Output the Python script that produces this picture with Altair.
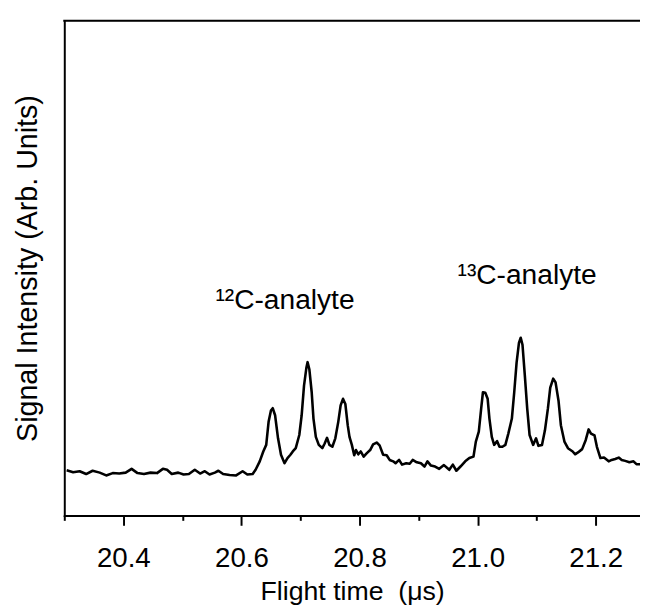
import altair as alt
import pandas as pd

# Flight time (microseconds)
time_us = [
    20.304, 20.315, 20.326, 20.337, 20.348, 20.360, 20.371, 20.382, 20.393, 20.404,
    20.414, 20.424, 20.435, 20.446, 20.457, 20.467, 20.474, 20.482, 20.493, 20.502,
    20.511, 20.521, 20.530, 20.538, 20.546, 20.555, 20.561, 20.569, 20.580, 20.591,
    20.602, 20.610, 20.619, 20.624,
    20.631, 20.637, 20.642, 20.646, 20.650, 20.653, 20.657, 20.662, 20.667, 20.673,
    20.678, 20.683, 20.687, 20.692, 20.698, 20.702, 20.706, 20.710, 20.712, 20.715,
    20.719, 20.722, 20.726, 20.731, 20.737, 20.741, 20.745, 20.749, 20.754, 20.759,
    20.764, 20.768, 20.772, 20.776, 20.780, 20.783, 20.787, 20.791, 20.794, 20.798,
    20.802, 20.807, 20.812, 20.818, 20.823, 20.829, 20.834, 20.840, 20.846, 20.851,
    20.857, 20.861,
    20.867, 20.872, 20.879, 20.885, 20.890, 20.897, 20.904, 20.910, 20.915, 20.921,
    20.928, 20.935, 20.943, 20.952, 20.958, 20.964, 20.971, 20.979, 20.986, 20.993,
    20.997, 21.002, 21.006, 21.009, 21.013, 21.017, 21.020, 21.024, 21.028, 21.033,
    21.037, 21.042, 21.047,
    21.052, 21.058, 21.062, 21.066, 21.070, 21.073, 21.076, 21.080, 21.084, 21.088,
    21.094, 21.099, 21.103, 21.109, 21.114, 21.119, 21.123, 21.128, 21.132, 21.137,
    21.141, 21.147, 21.153, 21.161, 21.165, 21.170, 21.177, 21.183, 21.188, 21.192,
    21.198, 21.202, 21.208, 21.214, 21.222, 21.227, 21.233, 21.239, 21.244, 21.250,
    21.257, 21.264, 21.269, 21.276,
]

# Signal intensity (arbitrary units)
signal = [
    9.6, 9.2, 9.4, 8.8, 9.5, 9.1, 8.5, 9.0, 8.9, 9.1,
    9.9, 9.0, 8.8, 9.1, 9.0, 9.9, 9.7, 8.8, 9.1, 8.7,
    8.8, 9.7, 8.9, 9.4, 8.7, 9.1, 9.5, 8.8, 8.6, 8.5,
    9.4, 8.7, 8.8, 9.7,
    11.5, 13.6, 15.0, 19.9, 22.3, 22.8, 21.3, 16.4, 12.9, 11.1,
    12.2, 12.9, 13.6, 14.3, 17.1, 21.3, 27.6, 31.4, 32.6, 31.1,
    26.2, 20.6, 16.7, 15.0, 14.3, 15.3, 16.5, 15.0, 14.6, 16.4,
    19.9, 23.4, 24.8, 23.7, 19.2, 16.7, 15.0, 12.8, 13.9, 13.0,
    13.6, 12.5, 13.2, 13.9, 15.1, 15.5, 14.9, 12.9, 12.8, 11.8,
    11.5, 11.1,
    11.8, 10.8, 11.1, 11.0, 11.8, 11.3, 11.1, 10.4, 11.5, 10.6,
    10.4, 9.9, 10.7, 9.7, 10.8, 9.5, 10.4, 11.5, 12.2, 12.5,
    15.7, 17.8, 22.7, 26.2, 26.1, 24.8, 20.6, 16.7, 15.0, 15.8,
    14.6, 14.6, 15.0,
    17.4, 20.6, 26.2, 32.5, 36.7, 37.8, 36.3, 29.7, 22.7, 17.1,
    15.0, 16.4, 14.8, 15.0, 18.1, 22.7, 27.2, 29.1, 28.3, 24.4,
    19.2, 15.7, 14.3, 13.6, 13.0, 13.4, 14.1, 16.0, 18.3, 17.4,
    17.0, 14.6, 12.2, 12.3, 11.5, 11.8, 12.0, 12.3, 11.8, 11.6,
    11.3, 11.5, 10.9, 10.9,
]

tick_values = [20.3, 20.4, 20.5, 20.6, 20.7, 20.8, 20.9, 21.0, 21.1, 21.2]

ann_text = ["\u00b9\u00b2C-analyte", "\u00b9\u00b3C-analyte"]
ann_t = [20.556, 20.966]
ann_s = [43.9, 49.2]

W, H = 583, 501
X_DOMAIN = [20.3, 21.275]
Y_DOMAIN = [0, 105.25]
FONT = "Liberation Sans"

df = pd.DataFrame({"t": time_us, "s": signal})
ann = pd.DataFrame({"label": ann_text, "t": ann_t, "s": ann_s})

xscale = alt.Scale(domain=X_DOMAIN, nice=False, zero=False)
yscale = alt.Scale(domain=Y_DOMAIN, nice=False, zero=False)

x_axis = alt.Axis(
    title="Flight time\u00a0\u00a0(\u03bcs)",
    values=tick_values,
    labelExpr="round(datum.value * 10) % 2 == 0 ? format(datum.value, '.1f') : ''",
    tickSize={"condition": {"test": "round(datum.value * 10) % 2 == 0", "value": 10}, "value": 5},
    tickWidth=2,
    tickColor="black",
    domainColor="black",
    domainWidth=2,
    domainCap="square",
    labelFont=FONT,
    labelFontSize=28,
    labelColor="black",
    labelPadding=20,
    labelFlush=False,
    titleFont=FONT,
    titleFontSize=27,
    titleFontWeight="normal",
    titleColor="black",
    titlePadding=6,
    grid=False,
)
y_axis = alt.Axis(
    title="Signal Intensity (Arb. Units)",
    labels=False,
    ticks=False,
    domainColor="black",
    domainWidth=2,
    domainCap="square",
    titleFont=FONT,
    titleFontSize=29,
    titleFontWeight="normal",
    titleColor="black",
    titlePadding=22,
    grid=False,
)

line = alt.Chart(df).mark_line(
    color="black", strokeWidth=2.6, clip=True, strokeJoin="round"
).encode(
    x=alt.X("t:Q", scale=xscale, axis=x_axis),
    y=alt.Y("s:Q", scale=yscale, axis=y_axis),
)

labels = alt.Chart(ann).mark_text(
    align="left", baseline="alphabetic", font=FONT, fontSize=28.5, color="black"
).encode(
    x=alt.X("t:Q", scale=xscale),
    y=alt.Y("s:Q", scale=yscale),
    text="label:N",
)

top_edge = alt.Chart(pd.DataFrame({"k": [0]})).mark_rule(
    color="black", strokeWidth=2, strokeCap="square"
).encode(x=alt.value(0), x2=alt.value(W + 2), y=alt.value(0))

chart = (
    alt.layer(line, labels, top_edge)
    .properties(
        width=W,
        height=H,
        autosize=alt.AutoSizeParams(type="none"),
        padding={"left": 57, "top": 9, "right": 0, "bottom": 94},
    )
    .configure_view(stroke="transparent", strokeWidth=0)
    .configure(background="white")
)

chart.save("out.html", embed_options={"renderer": "svg", "actions": False})
